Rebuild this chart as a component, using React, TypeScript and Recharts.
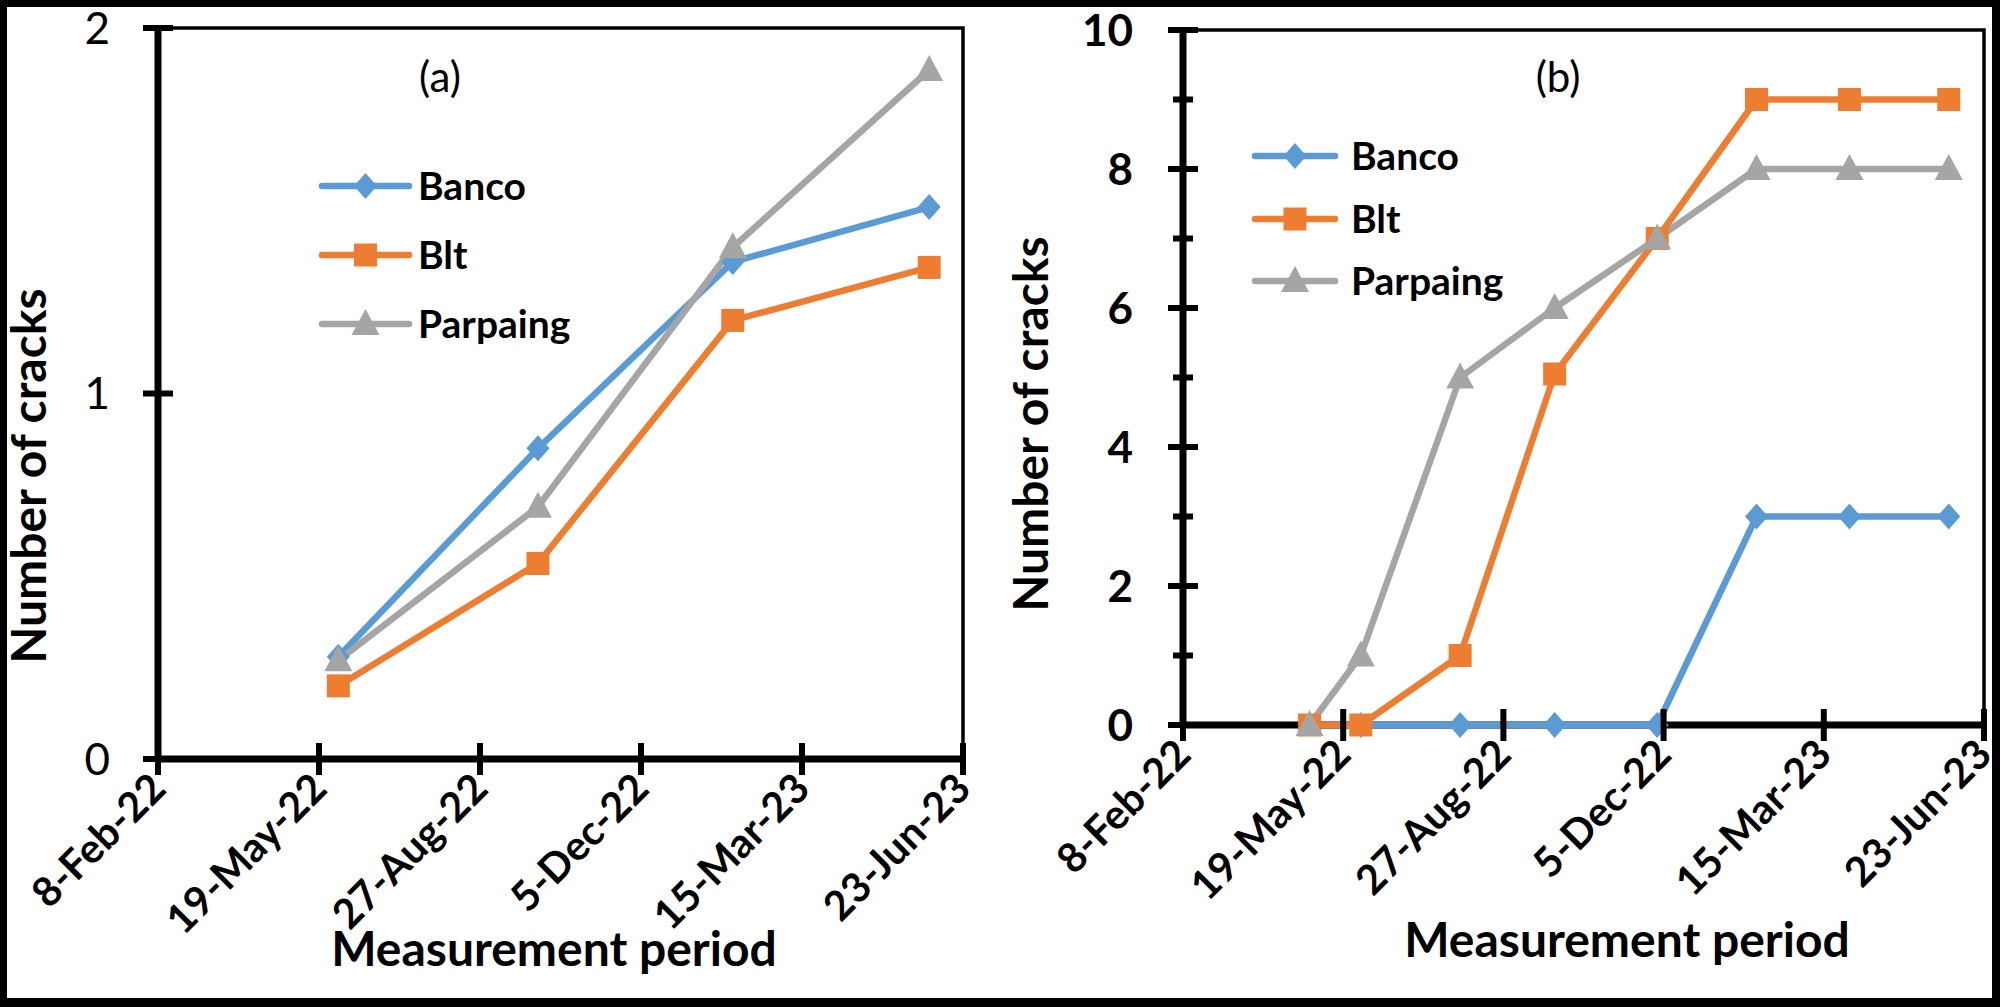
import React from 'react';
import { LineChart, Line, XAxis, YAxis, ReferenceArea, CartesianGrid } from 'recharts';

// ---------- data ----------
const xTicks = [44600, 44700, 44800, 44900, 45000, 45100];
const xTickLabels = ['8-Feb-22', '19-May-22', '27-Aug-22', '5-Dec-22', '15-Mar-23', '23-Jun-23'];

const datesA = [44712, 44836, 44957, 45079];
const bancoA = [0.28, 0.85, 1.36, 1.51];
const bltA = [0.2, 0.535, 1.2, 1.345];
const parpaingA = [0.27, 0.69, 1.4, 1.885];
const yTicksA = [0, 1, 2];

const datesB = [44679, 44711, 44773, 44832, 44896, 44958, 45016, 45078];
const bancoB = [null, 0, 0, 0, 0, 3, 3, 3];
const bltB = [0, 0, 1, 5.05, 7, 9, 9, 9];
const parpaingB = [0, 1, 5, 6, 7, 8, 8, 8];
const yTicksB = [0, 1, 2, 3, 4, 5, 6, 7, 8, 9, 10];
const yLabeledB = [0, 2, 4, 6, 8, 10];

const seriesKeys = ['banco', 'blt', 'parpaing'];
const seriesNames = ['Banco', 'Blt', 'Parpaing'];
const seriesColors = ['#5B9BD5', '#ED7D31', '#A5A5A5'];
const seriesShapes = ['diamond', 'square', 'triangle'];

const dataA = datesA.map((d, i) => ({ date: d, banco: bancoA[i], blt: bltA[i], parpaing: parpaingA[i] }));
const dataB = datesB.map((d, i) => ({ date: d, banco: bancoB[i], blt: bltB[i], parpaing: parpaingB[i] }));

const FONT = 'Lato, "Open Sans", sans-serif';
const LINE_W = 6.5;
const AXIS_W = 7;

function Marker({ shape, cx, cy, color }: any) {
  if (shape === 'diamond') {
    return <polygon points={`${cx},${cy - 13} ${cx + 11.5},${cy} ${cx},${cy + 13} ${cx - 11.5},${cy}`} fill={color} />;
  }
  if (shape === 'square') {
    return <rect x={cx - 11.5} y={cy - 11.5} width={23} height={23} fill={color} />;
  }
  return <polygon points={`${cx},${cy - 15} ${cx + 14},${cy + 11} ${cx - 14},${cy + 11}`} fill={color} />;
}

const makeDot = (shape: string, color: string) => (p: any) => {
  const key = `dot-${shape}-${p.index}`;
  if (p.cx == null || p.cy == null || p.value == null || (Array.isArray(p.value) && p.value[1] == null)) return <g key={key} />;
  return <g key={key}><Marker shape={shape} cx={p.cx} cy={p.cy} color={color} /></g>;
};

const XTick = (props: any) => {
  const { x, y, payload } = props;
  const i = xTicks.indexOf(payload.value);
  const ax = x + 10;
  const ay = y + 32;
  return (
    <g>
      <line x1={x} x2={x} y1={y - 16} y2={y + 16} stroke="#000" strokeWidth={6} />
      <text x={ax} y={ay} transform={`rotate(-45, ${ax}, ${ay})`} textAnchor="end" fontWeight="bold" fontSize={41} fontFamily={FONT} fill="#000">
        {xTickLabels[i]}
      </text>
    </g>
  );
};

const YTickA = (props: any) => {
  const { x, y, payload } = props;
  return (
    <g>
      <line x1={x - 15} x2={x + 15} y1={y} y2={y} stroke="#000" strokeWidth={6} />
      <text x={x - 48} y={y} dy="0.36em" textAnchor="end" fontSize={44} fontFamily={FONT} fill="#000">
        {payload.value}
      </text>
    </g>
  );
};

const YTickB = (props: any) => {
  const { x, y, payload } = props;
  const major = yLabeledB.includes(payload.value);
  const len = major ? 15 : 10;
  return (
    <g>
      <line x1={x - len} x2={x + len} y1={y} y2={y} stroke="#000" strokeWidth={6} />
      {major && (
        <text x={x - 50} y={y} dy="0.36em" textAnchor="end" fontWeight="bold" fontSize={44} fontFamily={FONT} fill="#000">
          {payload.value}
        </text>
      )}
    </g>
  );
};

function Lines() {
  return seriesKeys.map((k, i) => (
    <Line
      key={k}
      type="linear"
      dataKey={k}
      stroke={seriesColors[i]}
      strokeWidth={LINE_W}
      strokeLinejoin="round"
      strokeLinecap="round"
      dot={makeDot(seriesShapes[i], seriesColors[i])}
      activeDot={false}
      isAnimationActive={false}
      connectNulls={false}
    />
  ));
}

// x-axis baseline drawn as a grid line so that the series sit on top of it
function BaseLine() {
  return <CartesianGrid vertical={false} horizontalValues={[0]} stroke="#000" strokeWidth={AXIS_W} strokeDasharray="" />;
}

function PanelA() {
  return (
    <LineChart width={1000} height={1000} data={dataA} margin={{ top: 28, right: 37, bottom: 0, left: 0 }}>
      {BaseLine()}
      <ReferenceArea x1={44600} x2={45100} y1={0} y2={2} fill="none" stroke="#000" strokeWidth={3.5} ifOverflow="visible" />
      <XAxis
        dataKey="date"
        type="number"
        domain={[44600, 45100]}
        ticks={xTicks}
        interval={0}
        height={241}
        tickSize={0}
        tickMargin={0}
        tickLine={false}
        axisLine={false}
        tick={<XTick />}
      />
      <YAxis
        type="number"
        domain={[0, 2]}
        ticks={yTicksA}
        interval={0}
        width={158}
        tickSize={0}
        tickMargin={0}
        tickLine={false}
        axisLine={{ stroke: '#000', strokeWidth: AXIS_W }}
        tick={<YTickA />}
      />
      {Lines()}
    </LineChart>
  );
}

function PanelB() {
  return (
    <LineChart width={1000} height={1000} data={dataB} margin={{ top: 30, right: 16, bottom: 0, left: 0 }}>
      {BaseLine()}
      <ReferenceArea x1={44600} x2={45100} y1={0} y2={10} fill="none" stroke="#000" strokeWidth={3.5} ifOverflow="visible" />
      <XAxis
        dataKey="date"
        type="number"
        domain={[44600, 45100]}
        ticks={xTicks}
        interval={0}
        height={275}
        tickSize={0}
        tickMargin={0}
        tickLine={false}
        axisLine={false}
        tick={<XTick />}
      />
      <YAxis
        type="number"
        domain={[0, 10]}
        ticks={yTicksB}
        interval={0}
        width={183}
        tickSize={0}
        tickMargin={0}
        tickLine={false}
        axisLine={{ stroke: '#000', strokeWidth: AXIS_W }}
        tick={<YTickB />}
      />
      {Lines()}
    </LineChart>
  );
}

function LegendBlock({ x0, x1, textX, rows }: any) {
  return (
    <g>
      {seriesNames.map((n, i) => (
        <g key={n}>
          <line x1={x0} x2={x1} y1={rows[i]} y2={rows[i]} stroke={seriesColors[i]} strokeWidth={LINE_W} strokeLinecap="round" />
          <Marker shape={seriesShapes[i]} cx={(x0 + x1) / 2} cy={rows[i]} color={seriesColors[i]} />
          <text x={textX} y={rows[i]} dy="0.36em" fontSize={39} fontWeight="bold" fontFamily={FONT} fill="#000">{n}</text>
        </g>
      ))}
    </g>
  );
}

export default function App() {
  return (
    <div style={{ position: 'absolute', left: 0, top: 0, width: 2000, height: 1007, background: '#000', overflow: 'hidden' }}>
      <div style={{ position: 'absolute', left: 7, top: 7, width: 1985, height: 991, background: '#fff' }} />
      <div style={{ position: 'absolute', left: 0, top: 0 }}>
        <PanelA />
      </div>
      <div style={{ position: 'absolute', left: 1000, top: 0 }}>
        <PanelB />
      </div>
      <svg width={2000} height={1007} style={{ position: 'absolute', left: 0, top: 0, pointerEvents: 'none' }}>
        <text x={46} y={476} transform="rotate(-90, 46, 476)" textAnchor="middle" fontSize={48} fontWeight="bold" fontFamily={FONT} fill="#000">Number of cracks</text>
        <text x={1048} y={424} transform="rotate(-90, 1048, 424)" textAnchor="middle" fontSize={48} fontWeight="bold" fontFamily={FONT} fill="#000">Number of cracks</text>
        <text x={554} y={966} textAnchor="middle" fontSize={48} fontWeight="bold" fontFamily={FONT} fill="#000">Measurement period</text>
        <text x={1627} y={957} textAnchor="middle" fontSize={48} fontWeight="bold" fontFamily={FONT} fill="#000">Measurement period</text>
        <text x={440} y={77} dy="0.36em" textAnchor="middle" fontSize={42} fontFamily={FONT} fill="#000">(a)</text>
        <text x={1558} y={77} dy="0.36em" textAnchor="middle" fontSize={42} fontFamily={FONT} fill="#000">(b)</text>
        <LegendBlock x0={322} x1={409} textX={418} rows={[186, 255, 324]} />
        <LegendBlock x0={1255} x1={1335} textX={1351} rows={[156, 219, 281]} />
      </svg>
    </div>
  );
}
